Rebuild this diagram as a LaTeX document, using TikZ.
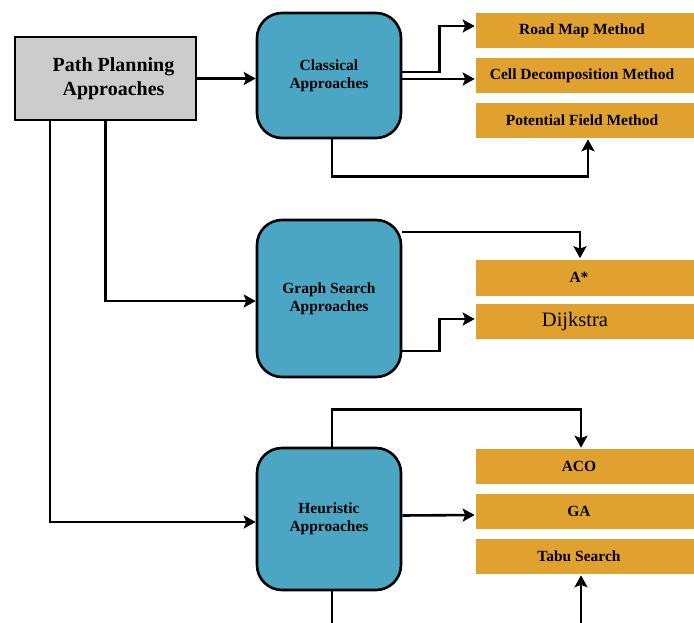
\documentclass[tikz,border=0pt]{standalone}
\usepackage{fontspec}
\setmainfont{Liberation Serif}
\usetikzlibrary{arrows.meta}
\definecolor{boxblue}{RGB}{75,166,196}
\definecolor{boxorange}{RGB}{224,161,46}
\definecolor{boxgray}{RGB}{204,204,204}
\begin{document}
\begin{tikzpicture}[x=1pt,y=-1pt,
    line width=2.6pt, >={Stealth[length=12pt,width=13pt,inset=2.5pt]},
    approach/.style={draw, line width=2.6pt, rounded corners=25pt, fill=boxblue, minimum width=144pt, align=center,
        font=\fontsize{15.5}{18}\selectfont\bfseries},
    method/.style={fill=boxorange, minimum width=218pt, minimum height=35pt, inner sep=0pt,
        font=\fontsize{15.5}{18}\selectfont\bfseries}]
    \useasboundingbox (0,0) rectangle (694,623);
    % main box, text sits a little right of centre
    \node[draw, line width=2.6pt, fill=boxgray, minimum width=181pt, minimum height=83pt, align=center,
        font=\fontsize{20}{24}\selectfont\bfseries] (root) at (105.5,78.5)
        {\hspace*{16pt}Path Planning\\\hspace*{16pt}Approaches};
    \node[approach, minimum height=125pt] (cls) at (329,75.5) {Classical\\Approaches};
    \node[approach, minimum height=157pt] (gs) at (329,298.5) {Graph Search\\Approaches};
    \node[approach, minimum height=142pt] (heu) at (329,519) {Heuristic\\Approaches};
    \node[method] (road) at (585,30.5) {\hspace*{-6pt}Road Map Method};
    \node[method] (cell) at (585,75.5) {\hspace*{-6pt}Cell Decomposition Method};
    \node[method] (pot) at (585,120.5) {\hspace*{-6pt}Potential Field Method};
    \node[method, minimum height=36pt] (astar) at (585,277.5) {\hspace*{-12pt}A*};
    \node[method, font=\fontsize{20.5}{24}\selectfont] (dij) at (585,321.5) {\hspace*{-20pt}Dijkstra};
    \node[method] (aco) at (585,466.5) {\hspace*{-12pt}ACO};
    \node[method] (ga) at (585,511.5) {\hspace*{-12pt}GA};
    \node[method] (tabu) at (585,556.5) {\hspace*{-12pt}Tabu Search};
    \coordinate (heubot) at (332,623);
    \coordinate (tabubot) at (581,623);
    \draw[->] (root.east) -- (cls.west |- root.east);
    \draw[->] (root.south) |- ([yshift=-2.5pt]gs.west);
    \draw[->] ([xshift=-55.5pt]root.south) |- ([yshift=-3pt]heu.west);
    \draw[->] ([yshift=3.5pt]cls.east) -- ++(37,0) |- ([yshift=4.5pt]road.west);
    \draw[->] ([yshift=-3.5pt]cls.east) -- ([yshift=-3.5pt]cell.west);
    \draw[->] ([xshift=3pt]cls.south) -- ++(0,37) -| ([xshift=3pt]pot.south);
    \draw[->] ([yshift=66.5pt]gs.east) -| ([xshift=-5pt]astar.north);
    \draw[->] ([yshift=-52.5pt]gs.east) -- ++(37,0) |- ([yshift=2.5pt]dij.west);
    \draw[->] ([xshift=3pt]heu.north) -- ++(0,-37) -| ([xshift=-4pt]aco.north);
    \draw[->] ([yshift=3.5pt]heu.east) -- ([yshift=-3.5pt]ga.west);
    \draw ([xshift=3pt]heu.south) -- (heubot);
    \draw[->] (tabubot) -- (tabubot |- tabu.south);
\end{tikzpicture}
\end{document}
